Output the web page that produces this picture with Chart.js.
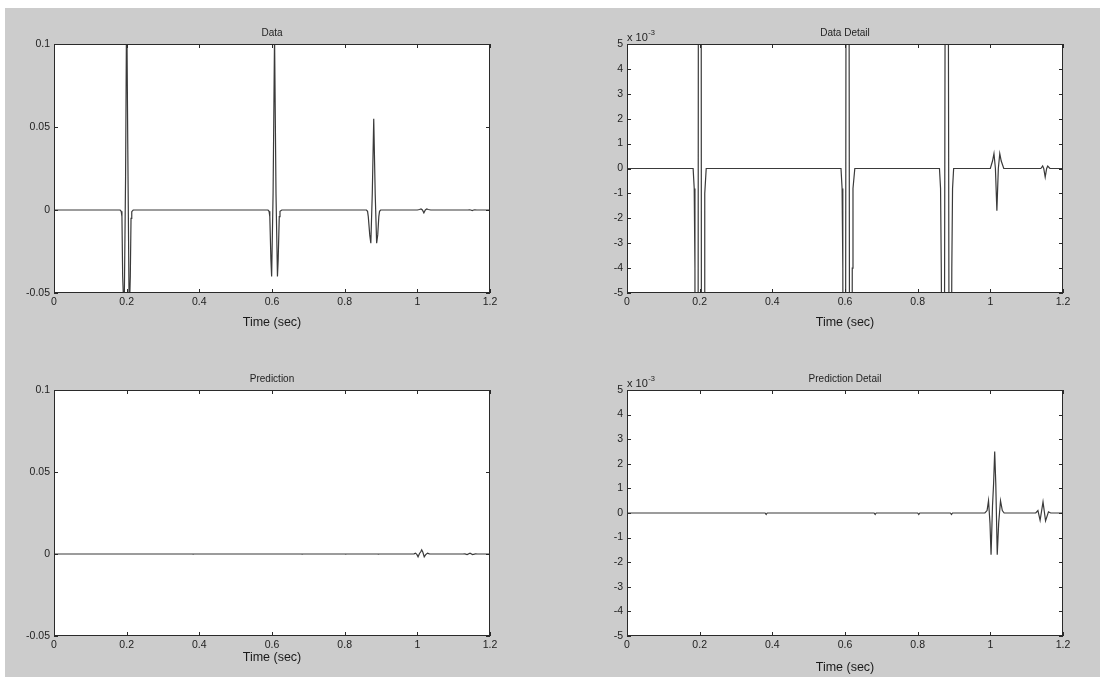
<!DOCTYPE html>
<html>
<head>
<meta charset="utf-8">
<script src="https://cdn.jsdelivr.net/npm/chart.js@4"></script>
<style>
  html, body { margin: 0; padding: 0; background: #ffffff; }
  .fig { position: absolute; left: 5px; top: 8px; width: 1095px; height: 669px; background: #cccccc; }
  .panel { position: absolute; }
</style>
</head>
<body>
<div class="fig"></div>
<div class="panel" style="left:5px;top:8px;width:545px;height:330px"><canvas id="data"></canvas></div>
<div class="panel" style="left:550px;top:8px;width:550px;height:330px"><canvas id="dataDetail"></canvas></div>
<div class="panel" style="left:5px;top:340px;width:545px;height:337px"><canvas id="pred"></canvas></div>
<div class="panel" style="left:550px;top:340px;width:550px;height:337px"><canvas id="predDetail"></canvas></div>
<script>
// recorded trace (sec, amplitude)
const dataT = [0, 0.182, 0.185, 0.187, 0.189, 0.193, 0.197, 0.200, 0.203, 0.207, 0.210, 0.212, 0.214, 0.218,
  0.589, 0.592, 0.594, 0.597, 0.599, 0.603, 0.607, 0.611, 0.615, 0.617, 0.620, 0.622, 0.627,
  0.860, 0.863, 0.865, 0.869, 0.872, 0.876, 0.880, 0.884, 0.888, 0.891, 0.894, 0.896, 0.899,
  1.000, 1.006, 1.010, 1.014, 1.018, 1.022, 1.026, 1.030, 1.037,
  1.139, 1.144, 1.147, 1.151, 1.155, 1.158, 1.164, 1.2];
const dataY = [0, 0, -0.0008, -0.004, -0.04, -0.065, 0.02, 0.13, 0.04, -0.065, -0.04, -0.005, -0.001, 0,
  0, -0.0008, -0.004, -0.03, -0.04, 0.01, 0.105, 0.01, -0.04, -0.03, -0.004, -0.0008, 0,
  0, -0.0008, -0.004, -0.015, -0.02, 0.01, 0.055, 0.01, -0.02, -0.015, -0.004, -0.0008, 0,
  0, 0.0003, 0.0006, 0, -0.0017, 0, 0.0006, 0.0003, 0,
  0, 0.0001, 0, -0.00035, 0, 0.0001, 0, 0];

// predicted trace
const predT = [0, 0.380, 0.383, 0.386, 0.680, 0.683, 0.686, 0.800, 0.803, 0.806, 0.890, 0.893, 0.896,
  0.985, 0.991, 0.995, 0.999, 1.002, 1.006, 1.009, 1.012, 1.015, 1.019, 1.023, 1.028, 1.033, 1.038,
  1.125, 1.131, 1.137, 1.145, 1.152, 1.160, 1.166, 1.2];
const predY = [0, 0, -0.00006, 0, 0, -0.00006, 0, 0, -0.00006, 0, 0, -0.00006, 0,
  0, 0.0001, 0.0005, -0.0004, -0.0017, 0.0003, 0.0012, 0.0025, 0.0012, -0.0017, -0.0004, 0.0005, 0.0001, 0,
  0, 0.0001, -0.0003, 0.00045, -0.00032, 0.00005, 0, 0];

const xTicks = [0, 0.2, 0.4, 0.6, 0.8, 1, 1.2];
const xTickLabels = ['0', '0.2', '0.4', '0.6', '0.8', '1', '1.2'];
const yTicksFull = [-0.05, 0, 0.05, 0.1];
const yTickLabelsFull = ['-0.05', '0', '0.05', '0.1'];
const yTicksDetail = [-0.005, -0.004, -0.003, -0.002, -0.001, 0, 0.001, 0.002, 0.003, 0.004, 0.005];
const yTickLabelsDetail = ['-5', '-4', '-3', '-2', '-1', '0', '1', '2', '3', '4', '5'];

const FONT = '"Liberation Sans", Arial, Helvetica, sans-serif';

const matlabFrame = {
  id: 'matlabFrame',
  beforeDraw(chart) {
    const {ctx, chartArea: a} = chart;
    ctx.save();
    ctx.fillStyle = '#ffffff';
    ctx.fillRect(a.left, a.top, a.width, a.height);
    ctx.restore();
  },
  afterDatasetsDraw(chart, args, opts) {
    const {ctx, chartArea: a, scales: {x, y}} = chart;
    ctx.save();
    ctx.strokeStyle = '#2a2a2a';
    ctx.lineWidth = 1;
    ctx.beginPath();
    x.ticks.forEach(t => {
      const px = Math.round(x.getPixelForValue(t.value)) + 0.5;
      ctx.moveTo(px, a.bottom); ctx.lineTo(px, a.bottom - 4);
      ctx.moveTo(px, a.top); ctx.lineTo(px, a.top + 4);
    });
    y.ticks.forEach(t => {
      const py = Math.round(y.getPixelForValue(t.value)) + 0.5;
      ctx.moveTo(a.left, py); ctx.lineTo(a.left + 4, py);
      ctx.moveTo(a.right, py); ctx.lineTo(a.right - 4, py);
    });
    ctx.stroke();
    ctx.strokeRect(Math.round(a.left) + 0.5, Math.round(a.top) + 0.5,
      Math.round(a.width) - 1, Math.round(a.height) - 1);

    ctx.fillStyle = '#1e1e1e';
    ctx.font = '10px ' + FONT;
    ctx.textAlign = 'center';
    ctx.textBaseline = 'middle';
    ctx.fillText(opts.title, (a.left + a.right) / 2, a.top - 11);
    if (opts.exponent) {
      ctx.textAlign = 'left';
      ctx.textBaseline = 'alphabetic';
      ctx.font = '11px ' + FONT;
      ctx.fillText('x 10', a.left, a.top - 3);
      const w = ctx.measureText('x 10').width;
      ctx.font = '7.5px ' + FONT;
      ctx.fillText('-3', a.left + w + 0.5, a.top - 9);
    }
    ctx.restore();
  }
};

function makePlot(id, t, v, cfg) {
  const yTicks = cfg.detail ? yTicksDetail : yTicksFull;
  const yLabels = cfg.detail ? yTickLabelsDetail : yTickLabelsFull;
  return new Chart(document.getElementById(id), {
    type: 'line',
    data: {
      datasets: [{
        data: t.map((tt, i) => ({x: tt, y: v[i]})),
        borderColor: '#3a3a3a',
        borderWidth: 1.2,
        pointRadius: 0,
        tension: 0,
        fill: false
      }]
    },
    options: {
      responsive: true,
      maintainAspectRatio: false,
      animation: false,
      events: [],
      layout: { padding: { left: 0, top: cfg.top, right: cfg.right, bottom: 0 } },
      plugins: {
        legend: { display: false },
        tooltip: { enabled: false },
        matlabFrame: { title: cfg.title, exponent: cfg.detail }
      },
      scales: {
        x: {
          type: 'linear',
          min: 0,
          max: 1.2,
          afterBuildTicks: s => { s.ticks = xTicks.map(val => ({value: val})); },
          afterFit: s => { s.height = cfg.xh; },
          grid: { display: false, drawTicks: false },
          border: { display: false },
          ticks: {
            padding: 3,
            maxRotation: 0,
            autoSkip: false,
            color: '#1e1e1e',
            font: { family: FONT, size: 10.5 },
            callback: (val, i) => xTickLabels[i]
          },
          title: {
            display: true,
            text: 'Time (sec)',
            color: '#1a1a1a',
            font: { family: FONT, size: 12.5 },
            padding: { top: 0, bottom: cfg.tpb }
          }
        },
        y: {
          type: 'linear',
          min: cfg.detail ? -0.005 : -0.05,
          max: cfg.detail ? 0.005 : 0.1,
          afterBuildTicks: s => { s.ticks = yTicks.map(val => ({value: val})); },
          afterFit: s => { s.width = cfg.yw; },
          grid: { display: false, drawTicks: false },
          border: { display: false },
          ticks: {
            padding: 4,
            autoSkip: false,
            color: '#1e1e1e',
            font: { family: FONT, size: 10.5 },
            callback: (val, i) => yLabels[i]
          }
        }
      }
    },
    plugins: [matlabFrame]
  });
}

makePlot('data', dataT, dataY, { title: 'Data', detail: false, top: 36, right: 60, yw: 49, xh: 45, tpb: 7.5 });
makePlot('dataDetail', dataT, dataY, { title: 'Data Detail', detail: true, top: 36, right: 37, yw: 77, xh: 45, tpb: 7.5 });
makePlot('pred', predT, predY, { title: 'Prediction', detail: false, top: 50, right: 60, yw: 49, xh: 41, tpb: 11.5 });
makePlot('predDetail', predT, predY, { title: 'Prediction Detail', detail: true, top: 50, right: 37, yw: 77, xh: 41, tpb: 1.5 });
</script>
</body>
</html>
